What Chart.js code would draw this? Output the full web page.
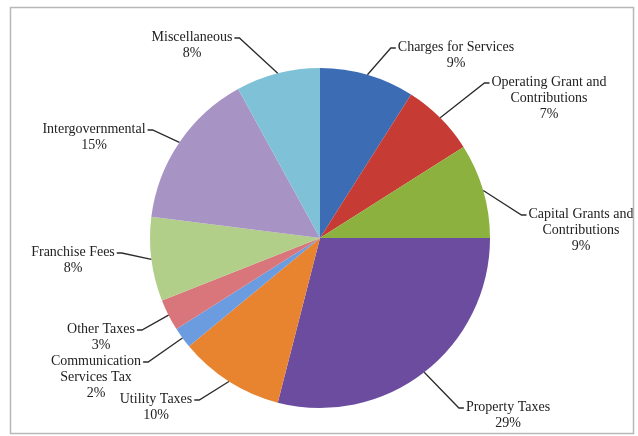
<!DOCTYPE html>
<html>
<head>
<meta charset="utf-8">
<script src="https://cdn.jsdelivr.net/npm/chart.js@4/dist/chart.umd.min.js"></script>
<style>
  body { margin: 0; background: #fff; }
  canvas { display: block; }
</style>
</head>
<body>
<canvas id="revpie" width="638" height="436"></canvas>
<script>
// slice data, clockwise from 12 o'clock
const categories = [
  ["Charges for Services"],
  ["Operating Grant and", "Contributions"],
  ["Capital Grants and", "Contributions"],
  ["Property Taxes"],
  ["Utility Taxes"],
  ["Communication", "Services Tax"],
  ["Other Taxes"],
  ["Franchise Fees"],
  ["Intergovernmental"],
  ["Miscellaneous"]
];
const shares = [9, 7, 9, 29, 10, 2, 3, 8, 15, 8];
const sliceColors = ['#3b6cb4', '#c73b35', '#8db13f', '#6b4c9f', '#e8842f',
                     '#6b9ce0', '#d9767b', '#b1cf88', '#a893c5', '#7fc2d7'];

// where each label block sits: [center x, first line y, side the leader joins]
const labelLayout = [
  [456, 47, 'L'], [549, 82, 'L'], [581, 214, 'L'], [508, 407, 'L'], [156, 399, 'R'],
  [96, 361, 'R'], [101, 329, 'R'], [73, 252, 'R'], [94, 129, 'R'], [192, 37, 'R']
];

const total = shares.reduce(function (a, b) { return a + b; }, 0);

const pieLabels = {
  id: 'pieLabels',
  afterDatasetsDraw(chart) {
    const ctx = chart.ctx;
    const meta = chart.getDatasetMeta(0);
    ctx.save();
    ctx.font = '14px "Liberation Serif", "Times New Roman", serif';
    ctx.textAlign = 'center';
    ctx.textBaseline = 'middle';
    meta.data.forEach(function (arc, i) {
      const p = arc.getProps(['x', 'y', 'startAngle', 'endAngle', 'outerRadius'], true);
      const mid = (p.startAngle + p.endAngle) / 2;
      const ax = p.x + Math.cos(mid) * p.outerRadius;
      const ay = p.y + Math.sin(mid) * p.outerRadius;
      const lay = labelLayout[i];
      const lines = categories[i].concat([Math.round(shares[i] / total * 100) + '%']);
      const w1 = ctx.measureText(lines[0]).width;
      let tx, ex;
      if (lay[2] === 'L') { tx = lay[0] - w1 / 2 - 2; ex = tx - 5; }
      else { tx = lay[0] + w1 / 2 + 2; ex = tx + 5; }
      ctx.strokeStyle = '#2b2b2b';
      ctx.lineWidth = 1.3;
      ctx.beginPath();
      ctx.moveTo(ax, ay);
      ctx.lineTo(ex, lay[1] + 1);
      ctx.lineTo(tx, lay[1] + 1);
      ctx.stroke();
      ctx.fillStyle = '#222';
      lines.forEach(function (t, k) { ctx.fillText(t, lay[0], lay[1] + k * 16); });
    });
    // chart frame
    ctx.strokeStyle = '#b8b8b8';
    ctx.lineWidth = 1.5;
    ctx.strokeRect(10.5, 7.5, 623, 426);
    ctx.restore();
  }
};

const config = {
  type: 'pie',
  data: {
    labels: categories.map(function (c) { return c.join(' '); }),
    datasets: [{ data: shares, backgroundColor: sliceColors, borderWidth: 0 }]
  },
  options: {
    responsive: false,
    animation: false,
    layout: { padding: { top: 68, bottom: 28, left: 150, right: 148 } },
    plugins: {
      legend: { display: false },
      tooltip: { enabled: false }
    }
  },
  plugins: [pieLabels]
};

const myChart = new Chart(document.getElementById('revpie'), config);
</script>
</body>
</html>
